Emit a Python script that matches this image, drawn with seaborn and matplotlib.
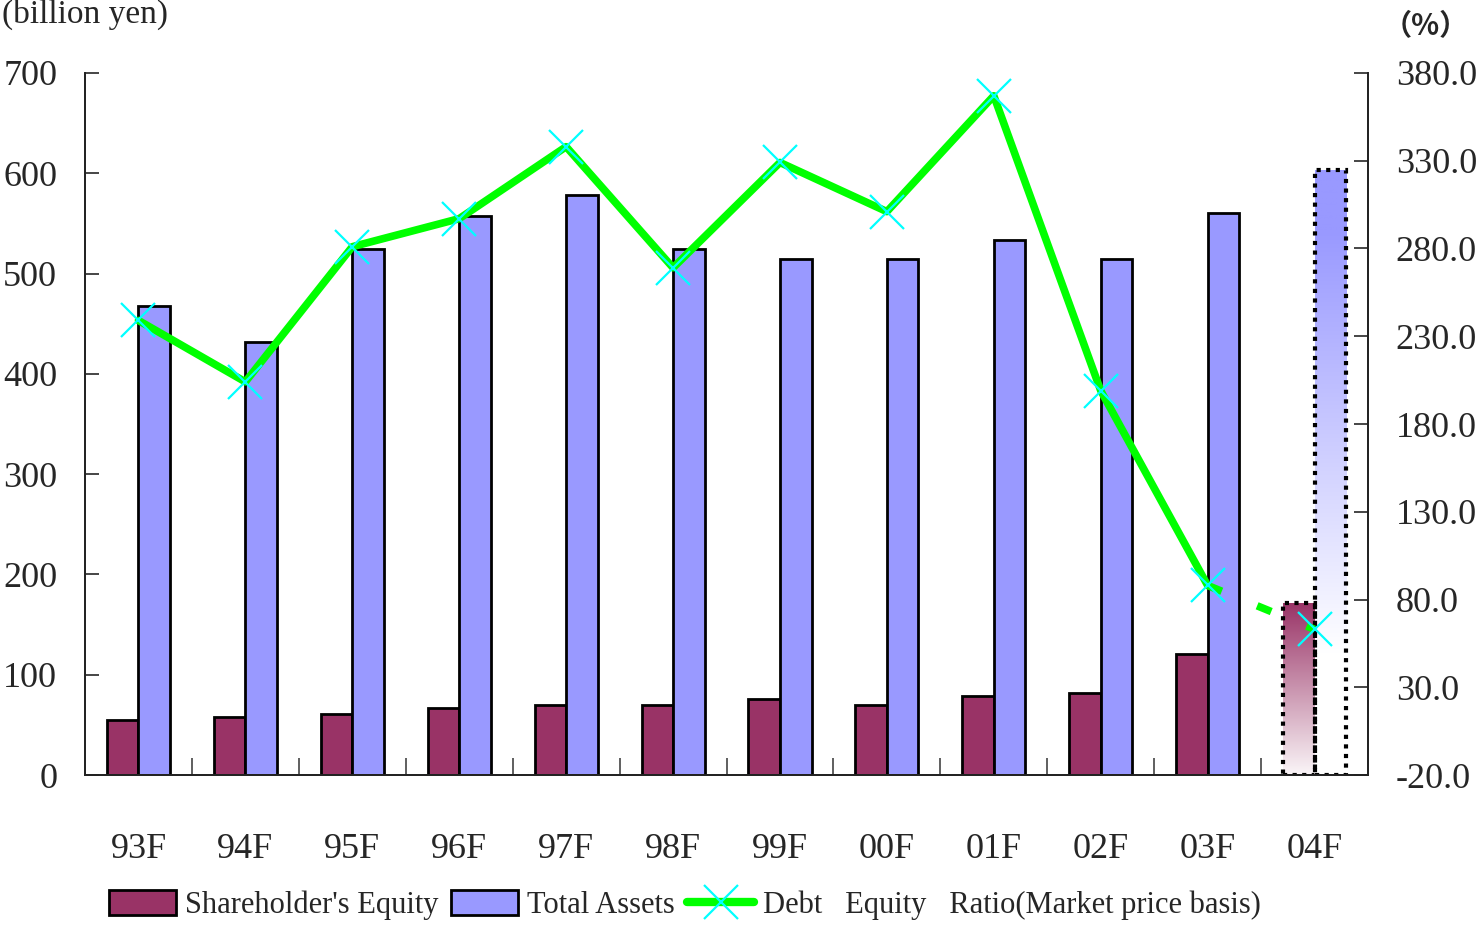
# Shareholder's equity / total assets / D/E ratio, 93F-04F

import numpy as np
import pandas as pd
import seaborn as sns
import matplotlib.pyplot as plt
from matplotlib.patches import Patch
from matplotlib.lines import Line2D
from matplotlib.ticker import FormatStrFormatter

years = ['93F', '94F', '95F', '96F', '97F', '98F', '99F', '00F', '01F', '02F', '03F', '04F']
equity = [55, 58, 61, 67, 70, 70, 76, 70, 79, 82, 121, 172]
assets = [468, 432, 524, 557, 578, 524, 515, 515, 533, 515, 560, 603]
de_ratio = [239, 204, 281, 297, 338, 269, 329, 301, 367, 199, 88, 63]

eq_label = "Shareholder's Equity"
as_label = 'Total Assets'
de_label = 'Debt   Equity   Ratio(Market price basis)'

EQ_COL = '#993366'
AS_COL = '#9999FF'

sns.set_theme(style='white')
plt.rcParams['font.family'] = ['Liberation Serif', 'DejaVu Serif']

df = pd.DataFrame({
  'year': years * 2,
  'value': equity + assets,
  'kind': [eq_label] * len(years) + [as_label] * len(years),
})

fig = plt.figure(figsize=(14.78, 9.33), dpi=100)
ax = fig.add_axes([0.0575, 0.1693, 0.8681, 0.7525])

sns.barplot(data=df, x='year', y='value', hue='kind', palette=[EQ_COL, AS_COL],
            width=0.59, saturation=1, edgecolor='black', linewidth=2,
            legend=False, ax=ax)

# forecast year: gradient fill with dotted outline
def fade(top_rgb, a, b):
  t = np.linspace(0, 1, 256)[:, None]
  f = np.clip((t - a) / (b - a), 0, 1)[..., None]
  top = np.array(top_rgb)[None, None, :]
  return top * (1 - f) + np.ones(3)[None, None, :] * f

for p in list(ax.patches):
  x0 = p.get_x()
  if x0 < 10.5 or p.get_height() <= 0:
    continue
  col = p.get_facecolor()[:3]
  is_eq = np.allclose(col, plt.matplotlib.colors.to_rgb(EQ_COL))
  grad = fade(col, 0.0, 1.05) if is_eq else fade(col, 0.1, 0.8)
  w, h = p.get_width(), p.get_height()
  im = ax.imshow(grad, extent=[x0, x0 + w, 0, h], origin='upper',
                 aspect='auto', zorder=p.get_zorder() - 0.1, interpolation='bilinear')
  im.set_clip_path(p)
  p.set_facecolor('none')
  p.set_linestyle((0, (1, 1.3)))
  p.set_linewidth(3)

ax.set_xlim(-0.5, 11.5)
ax.set_ylim(0, 700)
ax.set_yticks(np.arange(0, 701, 100))
ax.set_xticks(np.arange(len(years)))
ax.set_xticklabels(years)
ax.set_xticks(np.arange(0.5, 11, 1), minor=True)
ax.set_xlabel('')
ax.set_ylabel('')
ax.tick_params(axis='x', which='major', length=0, pad=42, labelsize=26)
ax.tick_params(axis='x', which='minor', bottom=True, direction='in', length=12, width=1.2, color='#444444')
ax.tick_params(axis='y', left=True, direction='in', length=10, width=1.2, pad=20, labelsize=26)

# ratio line on the right axis
ax2 = ax.twinx()
xs = np.arange(len(years))
sns.lineplot(x=xs[:11], y=de_ratio[:11], color='#00FF00', linewidth=5.5, ax=ax2)
sns.lineplot(x=xs[10:], y=de_ratio[10:], color='#00FF00', linewidth=5.5, ax=ax2)
ax2.lines[-1].set_linestyle((0, (2, 5)))
ax2.plot(xs, de_ratio, linestyle='none', marker='x', markersize=24,
         markeredgecolor='#00FFFF', markeredgewidth=1.6, zorder=5)
ax2.set_ylim(-20, 380)
ax2.set_yticks(np.arange(-20, 381, 50))
ax2.yaxis.set_major_formatter(FormatStrFormatter('%.1f'))
ax2.tick_params(axis='y', right=True, direction='in', length=10, width=1.2, pad=20, labelsize=26)
ax2.set_xlabel('')
ax2.set_ylabel('')

for a in (ax, ax2):
  a.spines['top'].set_visible(False)
  for s in ('left', 'right', 'bottom'):
    a.spines[s].set_color('#222222')
    a.spines[s].set_linewidth(1.3)

fig.text(2 / 1478, 1 - 14 / 933, '(billion yen)', ha='left', va='center', fontsize=24)
fig.text(1426 / 1478, 1 - 26 / 933, '（%）', ha='center', va='center', fontsize=21,
         fontweight='bold', family=['Noto Sans CJK JP', 'DejaVu Sans'])

handles = [
  Patch(facecolor=EQ_COL, edgecolor='black', linewidth=2),
  Patch(facecolor=AS_COL, edgecolor='black', linewidth=2),
  Line2D([], [], color='#00FF00', linewidth=6, marker='x', markersize=24,
         markeredgecolor='#00FFFF', markeredgewidth=1.6),
]
fig.legend(handles, [eq_label, as_label, de_label], loc='center',
           bbox_to_anchor=(685 / 1478, 1 - 905 / 933), ncol=3, frameon=False,
           fontsize=22, handlelength=2.2, handleheight=0.9,
           handletextpad=0.3, columnspacing=0.4)

fig.savefig('out.png', dpi=100)
